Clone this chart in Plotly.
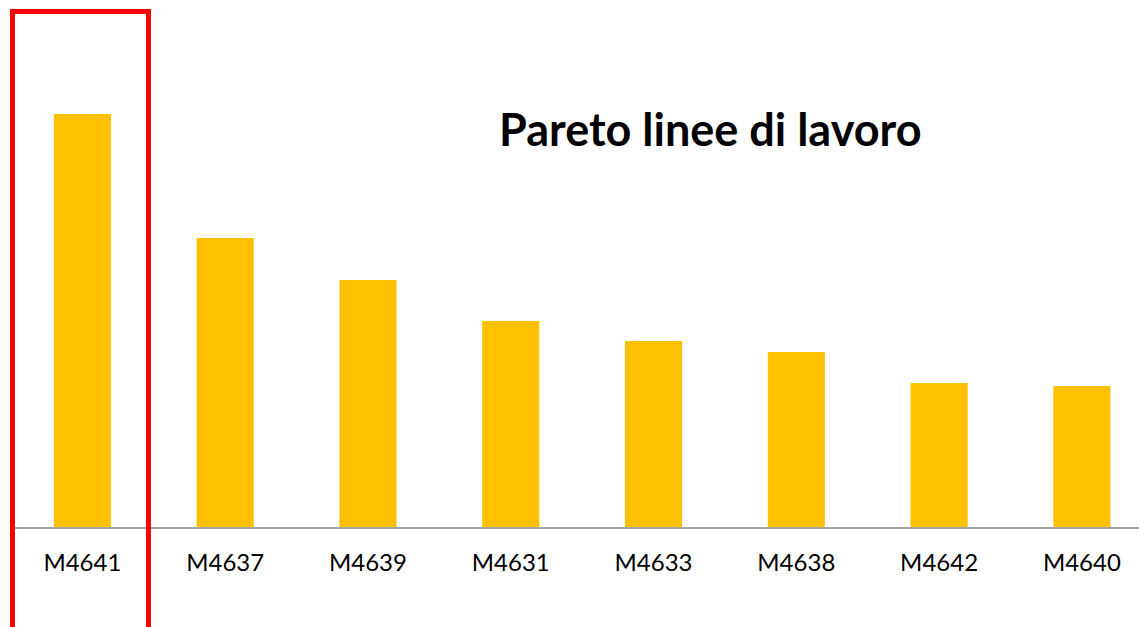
import plotly.graph_objects as go

categories = ["M4641", "M4637", "M4639", "M4631", "M4633", "M4638", "M4642", "M4640"]
values = [413, 289, 247, 206, 186, 175, 144, 141]
title_text = "Pareto linee di lavoro"

W, H = 1139, 627
ml, mr, mt, mb = 11, 0, 0, 100
pw, ph = W - ml - mr, H - mt - mb

def px_x(p):
    return (p - ml) / pw

def px_y(p):
    return (H - mb - p) / ph

fig = go.Figure(go.Bar(
    x=categories, y=values, marker_color="#FFC000", width=0.4,
    marker_line_width=0,
))

fig.update_layout(
    width=W, height=H,
    margin=dict(l=ml, r=mr, t=mt, b=mb, pad=0),
    paper_bgcolor="white", plot_bgcolor="white",
    showlegend=False,
    font=dict(family="Lato, Liberation Sans, sans-serif", color="#000000"),
    xaxis=dict(
        range=[-0.5, 7.4], showgrid=False, zeroline=False,
        showline=True, linecolor="#A6A6A6", linewidth=2,
        ticks="", tickfont=dict(size=24, color="#000000"),
        ticklabelstandoff=13,
    ),
    yaxis=dict(range=[0, ph], visible=False, showgrid=False, zeroline=False),
    annotations=[dict(
        text="<b>" + title_text + "</b>", xref="paper", yref="paper",
        x=px_x(710), y=px_y(129), xanchor="center", yanchor="middle",
        showarrow=False, font=dict(size=45, color="#000000", family="Lato, sans-serif"),
    )],
    shapes=[dict(
        type="rect", xref="paper", yref="paper",
        x0=px_x(12.5), x1=px_x(148.5), y0=px_y(700), y1=px_y(11.5),
        line=dict(color="#FF0000", width=5), fillcolor="rgba(0,0,0,0)", layer="above",
    )],
)

fig.write_html("out.html")
